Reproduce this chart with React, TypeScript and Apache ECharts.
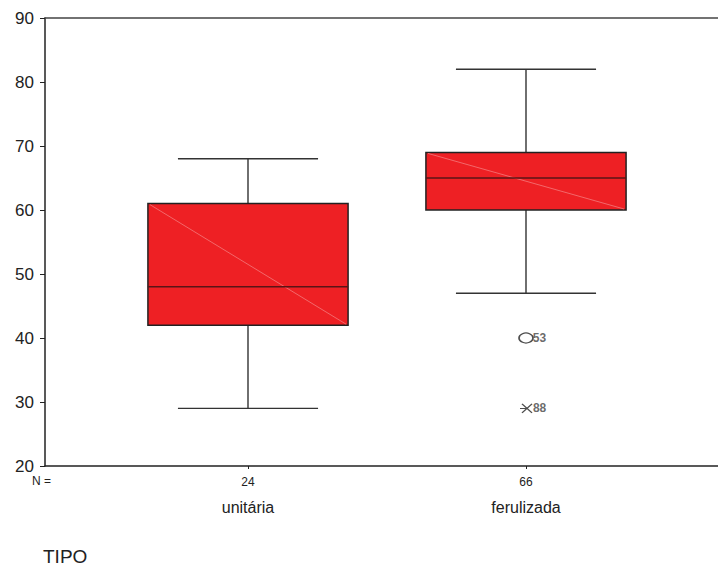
import React, { useEffect, useRef } from "react";
import * as echarts from "echarts";

const categories = ["unitária", "ferulizada"];
const counts = ["24", "66"];
// [lowerWhisker, Q1, median, Q3, upperWhisker]
const boxValues = [
  [29, 42, 48, 61, 68],
  [47, 60, 65, 69, 82],
];
const mildOutliers = [{ cat: 1, value: 40, label: "53" }];
const extremeOutliers = [{ cat: 1, value: 29, label: "88" }];
const yTicks = { min: 20, max: 90, interval: 10 };

const FONT = "'Liberation Sans', Arial, sans-serif";
const outLabel = { fontSize: 12, fontWeight: "bold" as const, color: "#444", fontFamily: FONT };

export default function App() {
  const ref = useRef<HTMLDivElement>(null);
  useEffect(() => {
    if (!ref.current) return;
    const chart = echarts.init(ref.current, undefined, { renderer: "svg" });
    const gridTop = 18;
    const gridBottom = 570 - 466;
    chart.setOption({
      animation: false,
      backgroundColor: "#ffffff",
      textStyle: { fontFamily: FONT },
      grid: [
        { left: 45, right: 0, top: gridTop, bottom: gridBottom },
        { left: 109, width: 556, top: gridTop, bottom: gridBottom },
      ],
      xAxis: [
        {
          gridIndex: 0,
          type: "value",
          min: 0,
          max: 1,
          position: "bottom",
          axisLine: { show: true, onZero: false, lineStyle: { color: "#222", width: 1.5 } },
          axisTick: { show: false },
          axisLabel: { show: false },
          splitLine: { show: false },
        },
        {
          gridIndex: 0,
          type: "value",
          min: 0,
          max: 1,
          position: "top",
          axisLine: { show: true, onZero: false, lineStyle: { color: "#444", width: 1.5 } },
          axisTick: { show: false },
          axisLabel: { show: false },
          splitLine: { show: false },
        },
        {
          gridIndex: 1,
          type: "category",
          data: categories,
          position: "bottom",
          axisLine: { show: false, onZero: false },
          axisTick: { show: true, alignWithLabel: true, length: 3, lineStyle: { color: "#222" } },
          axisLabel: {
            margin: 8,
            formatter: (v: string, i: number) => `{n|${counts[i]}}\n{c|${v}}`,
            rich: {
              n: { fontSize: 12, color: "#222", fontFamily: FONT, lineHeight: 16 },
              c: { fontSize: 16, color: "#222", fontFamily: FONT, lineHeight: 25, verticalAlign: "bottom" },
            },
          },
          splitLine: { show: false },
        },
      ],
      yAxis: [
        {
          gridIndex: 0,
          type: "value",
          min: yTicks.min,
          max: yTicks.max,
          interval: yTicks.interval,
          axisLine: { show: true, lineStyle: { color: "#222", width: 1.5 } },
          axisTick: { show: true, length: 5, lineStyle: { color: "#222" } },
          axisLabel: { fontSize: 17, color: "#222", margin: 11, fontFamily: FONT },
          splitLine: { show: false },
        },
        {
          gridIndex: 1,
          type: "value",
          min: yTicks.min,
          max: yTicks.max,
          interval: yTicks.interval,
          show: false,
        },
      ],
      series: [
        {
          type: "custom",
          xAxisIndex: 2,
          yAxisIndex: 1,
          data: boxValues.map((b, i) => [i, ...b]),
          renderItem: (params: any, api: any) => {
            const idx = api.value(0);
            const lo = api.coord([idx, api.value(1)]);
            const q1 = api.coord([idx, api.value(2)]);
            const med = api.coord([idx, api.value(3)]);
            const q3 = api.coord([idx, api.value(4)]);
            const hi = api.coord([idx, api.value(5)]);
            const bw = api.size([1, 0])[0] * 0.72;
            const half = bw / 2;
            const x = lo[0];
            const capHalf = half * 0.7;
            const lineStyle = { stroke: "#333", lineWidth: 1.4 };
            return {
              type: "group",
              children: [
                { type: "line", shape: { x1: x, y1: hi[1], x2: x, y2: q3[1] }, style: lineStyle },
                { type: "line", shape: { x1: x, y1: q1[1], x2: x, y2: lo[1] }, style: lineStyle },
                { type: "line", shape: { x1: x - capHalf, y1: hi[1], x2: x + capHalf, y2: hi[1] }, style: lineStyle },
                { type: "line", shape: { x1: x - capHalf, y1: lo[1], x2: x + capHalf, y2: lo[1] }, style: lineStyle },
                {
                  type: "rect",
                  shape: { x: x - half, y: q3[1], width: bw, height: q1[1] - q3[1] },
                  style: { fill: "#ee2024", stroke: "#222", lineWidth: 1.5 },
                },
                {
                  type: "line",
                  shape: { x1: x - half + 2, y1: q3[1] + 1, x2: x + half - 2, y2: q1[1] - 1 },
                  style: { stroke: "#f47a7c", lineWidth: 0.8 },
                },
                {
                  type: "line",
                  shape: { x1: x - half, y1: med[1], x2: x + half, y2: med[1] },
                  style: { stroke: "#5a1416", lineWidth: 1.5 },
                },
              ],
            };
          },
          z: 2,
        },
        {
          type: "scatter",
          xAxisIndex: 2,
          yAxisIndex: 1,
          data: mildOutliers.map((o) => ({
            value: [o.cat, o.value],
            label: { show: true, formatter: o.label, ...outLabel },
          })),
          symbol: "circle",
          symbolSize: [14, 10],
          itemStyle: { color: "#ffffff", borderColor: "#222", borderWidth: 1.4 },
          label: { show: true, position: "right", distance: -1, ...outLabel },
          z: 3,
        },
        {
          type: "scatter",
          xAxisIndex: 2,
          yAxisIndex: 1,
          data: extremeOutliers.map((o) => ({
            value: [o.cat, o.value],
            label: { show: true, formatter: o.label, ...outLabel },
          })),
          symbol: "path://M2,0L12,10M12,0L2,10M0,5L8,5",
          symbolSize: [12, 9],
          itemStyle: { color: "none", borderColor: "#222", borderWidth: 1.2 },
          label: { show: true, position: "right", distance: -2, ...outLabel },
          z: 3,
        },
      ],
      graphic: [
        {
          type: "text",
          left: 32,
          top: 475,
          style: { text: "N =", fontSize: 12, fill: "#222", fontFamily: FONT },
        },
        {
          type: "text",
          left: 43,
          top: 547,
          style: { text: "TIPO", fontSize: 19, fill: "#222", fontFamily: FONT },
        },
      ],
    });
    return () => chart.dispose();
  }, []);
  return (
    <div
      ref={ref}
      style={{ position: "fixed", left: 0, top: 0, width: 718, height: 570, background: "#fff" }}
    />
  );
}
